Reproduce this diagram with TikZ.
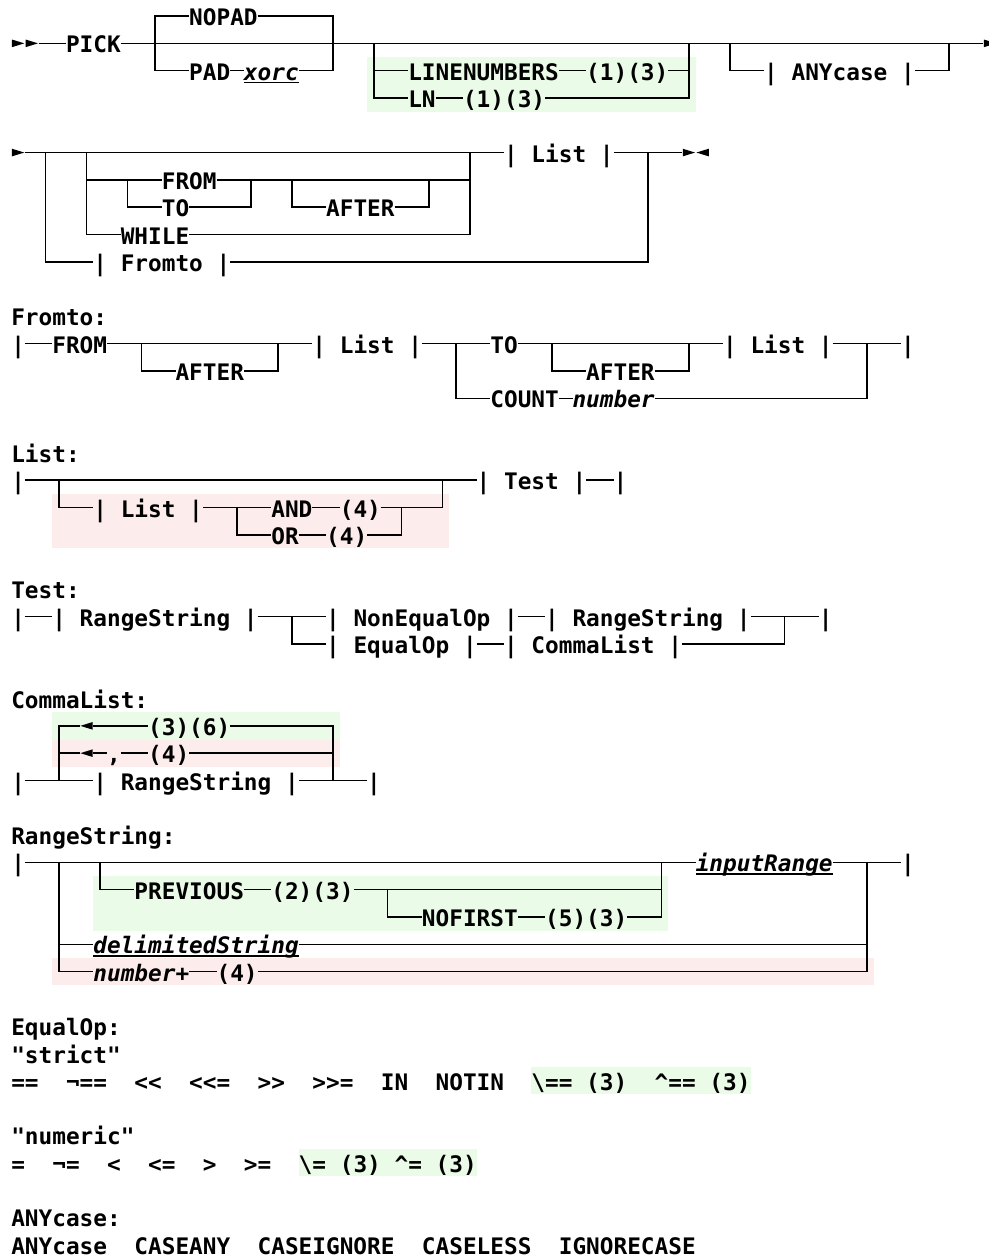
\documentclass[tikz,border=0pt]{standalone}
\usepackage{fontspec}
\newfontfamily\djm{DejaVu Sans Mono}
\newcommand\fsz{\djm\fontsize{22.74pt}{27.3pt}\selectfont\bfseries}
\definecolor{hlg}{RGB}{234,251,231}
\definecolor{hlp}{RGB}{253,236,236}
\newcommand\rtri[2]{\fill ({#1+0.05},{#2+0.36}) -- ({#1+0.95},{#2+0.5}) -- ({#1+0.05},{#2+0.64}) -- cycle;}
\newcommand\ltri[2]{\fill ({#1+0.95},{#2+0.36}) -- ({#1+0.05},{#2+0.5}) -- ({#1+0.95},{#2+0.64}) -- cycle;}
\newcommand\ulx[1]{\draw[ul] ([yshift=-2.2pt]#1.south west) -- ([yshift=-2.2pt]#1.south east);}
\tikzset{
  tx/.style={anchor=west, inner sep=0pt, outer sep=0pt, text height=19.2pt, text depth=0pt, font=\fsz},
  it/.style={tx, font=\fsz\itshape},
  ln/.style={line width=1.5pt, line join=miter},
  ul/.style={line width=1.4pt},
  gb/.style={fill=hlg},
  pb/.style={fill=hlp}
}
\begin{document}
\begin{tikzpicture}[x=13.69pt,y=-27.3pt]
\useasboundingbox (-0.8218,-0.0879) rectangle (71.348,45.9927);
% highlights
\fill[gb] (26,2) rectangle (50,4);
\fill[pb] (3,18) rectangle (32,20);
\fill[gb] (3,26) rectangle (24,27);
\fill[pb] (3,27) rectangle (24,28);
\fill[gb] (6,32) rectangle (48,34);
\fill[pb] (3,35) rectangle (63,36);
\fill[gb] (38,39) rectangle (54,40);
\fill[gb] (21,42) rectangle (34,43);

% ---------- PICK main
\rtri{0}{1}\rtri{1}{1}
\coordinate (p0) at (2,1.5);
\coordinate (p1) at (71,1.5);
\rtri{71}{1}
\node[tx] (pick) at (4,1.5) {PICK};
\node[tx] (nopad) at (13,0.5) {NOPAD};
\node[tx] (pad) at (13,2.5) {PAD};
\node[it] (xorc) at (17,2.5) {xorc};
\node[tx] (lnum) at (29,2.5) {LINENUMBERS};
\node[tx] (lnumn) at (42,2.5) {(1)(3)};
\node[tx] (lnn) at (29,3.5) {LN};
\node[tx] (lnnn) at (33,3.5) {(1)(3)};
\node[tx] (anyref) at (55,2.5) {| ANYcase |};
\draw[ln] (p0) -- (pick.west);
\draw[ln] (pick.east) -- (p1);
\draw[ln] (nopad.west) -- (10.5,0.5) -- (10.5,2.5) -- (pad.west);
\draw[ln] (nopad.east) -- (23.5,0.5) -- (23.5,2.5) -- (xorc.east);
\draw[ln] (pad.east) -- (xorc.west);
\ulx{xorc}
\draw[ln] (26.5,1.5) -- (26.5,3.5) -- (lnn.west);
\draw[ln] (26.5,2.5) -- (lnum.west);
\draw[ln] (lnum.east) -- (lnumn.west);
\draw[ln] (lnumn.east) -- (49.5,2.5);
\draw[ln] (lnn.east) -- (lnnn.west);
\draw[ln] (lnnn.east) -- (49.5,3.5) -- (49.5,1.5);
\draw[ln] (52.5,1.5) -- (52.5,2.5) -- (anyref.west);
\draw[ln] (anyref.east) -- (68.5,2.5) -- (68.5,1.5);

% ---------- second line
\rtri{0}{5}
\coordinate (q0) at (1,5.5);
\coordinate (q1) at (49,5.5);
\rtri{49}{5}\ltri{50}{5}
\node[tx] (lst1) at (36,5.5) {| List |};
\draw[ln] (q0) -- (lst1.west);
\draw[ln] (lst1.east) -- (q1);
\node[tx] (fromto) at (6,9.5) {| Fromto |};
\draw[ln] (2.5,5.5) -- (2.5,9.5) -- (fromto.west);
\draw[ln] (fromto.east) -- (46.5,9.5) -- (46.5,5.5);
\node[tx] (while) at (8,8.5) {WHILE};
\draw[ln] (5.5,5.5) -- (5.5,8.5) -- (while.west);
\draw[ln] (while.east) -- (33.5,8.5) -- (33.5,5.5);
\node[tx] (from1) at (11,6.5) {FROM};
\node[tx] (to1) at (11,7.5) {TO};
\node[tx] (aft1) at (23,7.5) {AFTER};
\draw[ln] (5.5,6.5) -- (from1.west);
\draw[ln] (from1.east) -- (33.5,6.5);
\draw[ln] (8.5,6.5) -- (8.5,7.5) -- (to1.west);
\draw[ln] (to1.east) -- (17.5,7.5) -- (17.5,6.5);
\draw[ln] (20.5,6.5) -- (20.5,7.5) -- (aft1.west);
\draw[ln] (aft1.east) -- (30.5,7.5) -- (30.5,6.5);

% ---------- Fromto
\node[tx] (hft) at (0,11.5) {Fromto:};
\node[tx] (ftb0) at (0,12.5) {|};
\node[tx] (from2) at (3,12.5) {FROM};
\node[tx] (lst2) at (22,12.5) {| List |};
\node[tx] (to2) at (35,12.5) {TO};
\node[tx] (lst3) at (52,12.5) {| List |};
\node[tx] (ftb1) at (65,12.5) {|};
\draw[ln] (ftb0.east) -- (from2.west);
\draw[ln] (from2.east) -- (lst2.west);
\draw[ln] (lst2.east) -- (to2.west);
\draw[ln] (to2.east) -- (lst3.west);
\draw[ln] (lst3.east) -- (ftb1.west);
\node[tx] (aft2) at (12,13.5) {AFTER};
\draw[ln] (9.5,12.5) -- (9.5,13.5) -- (aft2.west);
\draw[ln] (aft2.east) -- (19.5,13.5) -- (19.5,12.5);
\node[tx] (aft3) at (42,13.5) {AFTER};
\draw[ln] (39.5,12.5) -- (39.5,13.5) -- (aft3.west);
\draw[ln] (aft3.east) -- (49.5,13.5) -- (49.5,12.5);
\node[tx] (count) at (35,14.5) {COUNT};
\node[it] (numb) at (41,14.5) {number};
\draw[ln] (32.5,12.5) -- (32.5,14.5) -- (count.west);
\draw[ln] (count.east) -- (numb.west);
\draw[ln] (numb.east) -- (62.5,14.5) -- (62.5,12.5);

% ---------- List
\node[tx] (hl) at (0,16.5) {List:};
\node[tx] (lb0) at (0,17.5) {|};
\node[tx] (test) at (34,17.5) {| Test |};
\node[tx] (lb1) at (44,17.5) {|};
\draw[ln] (lb0.east) -- (test.west);
\draw[ln] (test.east) -- (lb1.west);
\node[tx] (lst4) at (6,18.5) {| List |};
\node[tx] (andk) at (19,18.5) {AND};
\node[tx] (n4a) at (24,18.5) {(4)};
\node[tx] (ork) at (19,19.5) {OR};
\node[tx] (n4b) at (23,19.5) {(4)};
\draw[ln] (3.5,17.5) -- (3.5,18.5) -- (lst4.west);
\draw[ln] (lst4.east) -- (andk.west);
\draw[ln] (andk.east) -- (n4a.west);
\draw[ln] (n4a.east) -- (31.5,18.5) -- (31.5,17.5);
\draw[ln] (16.5,18.5) -- (16.5,19.5) -- (ork.west);
\draw[ln] (ork.east) -- (n4b.west);
\draw[ln] (n4b.east) -- (28.5,19.5) -- (28.5,18.5);

% ---------- Test
\node[tx] (ht) at (0,21.5) {Test:};
\node[tx] (tb0) at (0,22.5) {|};
\node[tx] (rs1) at (3,22.5) {| RangeString |};
\node[tx] (neq) at (23,22.5) {| NonEqualOp |};
\node[tx] (rs2) at (39,22.5) {| RangeString |};
\node[tx] (tb1) at (59,22.5) {|};
\draw[ln] (tb0.east) -- (rs1.west);
\draw[ln] (rs1.east) -- (neq.west);
\draw[ln] (neq.east) -- (rs2.west);
\draw[ln] (rs2.east) -- (tb1.west);
\node[tx] (eqop) at (23,23.5) {| EqualOp |};
\node[tx] (cml) at (36,23.5) {| CommaList |};
\draw[ln] (20.5,22.5) -- (20.5,23.5) -- (eqop.west);
\draw[ln] (eqop.east) -- (cml.west);
\draw[ln] (cml.east) -- (56.5,23.5) -- (56.5,22.5);

% ---------- CommaList
\node[tx] (hc) at (0,25.5) {CommaList:};
\node[tx] (cb0) at (0,28.5) {|};
\node[tx] (rs3) at (6,28.5) {| RangeString |};
\node[tx] (cb1) at (26,28.5) {|};
\draw[ln] (cb0.east) -- (rs3.west);
\draw[ln] (rs3.east) -- (cb1.west);
\ltri{5}{26}\ltri{5}{27}
\coordinate (a1) at (5,26.5);
\coordinate (a1b) at (6,26.5);
\coordinate (a2) at (5,27.5);
\coordinate (a2b) at (6,27.5);
\node[tx] (n36) at (10,26.5) {(3)(6)};
\node[tx] (comma) at (7,27.5) {,};
\node[tx] (n4c) at (10,27.5) {(4)};
\draw[ln] (a1) -- (3.5,26.5) -- (3.5,28.5);
\draw[ln] (3.5,27.5) -- (a2);
\draw[ln] (a1b) -- (n36.west);
\draw[ln] (n36.east) -- (23.5,26.5) -- (23.5,28.5);
\draw[ln] (a2b) -- (comma.west);
\draw[ln] (comma.east) -- (n4c.west);
\draw[ln] (n4c.east) -- (23.5,27.5);

% ---------- RangeString
\node[tx] (hr) at (0,30.5) {RangeString:};
\node[tx] (rb0) at (0,31.5) {|};
\node[it] (inr) at (50,31.5) {inputRange};
\node[tx] (rb1) at (65,31.5) {|};
\draw[ln] (rb0.east) -- (inr.west);
\draw[ln] (inr.east) -- (rb1.west);
\ulx{inr}
\node[it] (dls) at (6,34.5) {delimitedString};
\ulx{dls}
\node[it] (nplus) at (6,35.5) {number+};
\node[tx] (n4d) at (15,35.5) {(4)};
\draw[ln] (3.5,31.5) -- (3.5,35.5) -- (nplus.west);
\draw[ln] (3.5,34.5) -- (dls.west);
\draw[ln] (dls.east) -- (62.5,34.5);
\draw[ln] (nplus.east) -- (n4d.west);
\draw[ln] (n4d.east) -- (62.5,35.5) -- (62.5,31.5);
\node[tx] (prev) at (9,32.5) {PREVIOUS};
\node[tx] (n23) at (19,32.5) {(2)(3)};
\node[tx] (nof) at (30,33.5) {NOFIRST};
\node[tx] (n53) at (39,33.5) {(5)(3)};
\draw[ln] (6.5,31.5) -- (6.5,32.5) -- (prev.west);
\draw[ln] (prev.east) -- (n23.west);
\draw[ln] (n23.east) -- (47.5,32.5);
\draw[ln] (27.5,32.5) -- (27.5,33.5) -- (nof.west);
\draw[ln] (nof.east) -- (n53.west);
\draw[ln] (n53.east) -- (47.5,33.5) -- (47.5,31.5);

% ---------- EqualOp
\node[tx] (he) at (0,37.5) {EqualOp:};
\node[tx] (hs) at (0,38.5) {"strict"};
\node[tx] (s1) at (0,39.5) {==};
\node[tx] (s2) at (4,39.5) {¬==};
\node[tx] (s3) at (9,39.5) {<<};
\node[tx] (s4) at (13,39.5) {<<=};
\node[tx] (s5) at (18,39.5) {>>};
\node[tx] (s6) at (22,39.5) {>>=};
\node[tx] (s7) at (27,39.5) {IN};
\node[tx] (s8) at (31,39.5) {NOTIN};
\node[tx] (s9) at (38,39.5) {\textbackslash==};
\node[tx] (s10) at (42,39.5) {(3)};
\node[tx] (s11) at (47,39.5) {\textasciicircum==};
\node[tx] (s12) at (51,39.5) {(3)};
\node[tx] (hnum) at (0,41.5) {"numeric"};
\node[tx] (m1) at (0,42.5) {=};
\node[tx] (m2) at (3,42.5) {¬=};
\node[tx] (m3) at (7,42.5) {<};
\node[tx] (m4) at (10,42.5) {<=};
\node[tx] (m5) at (14,42.5) {>};
\node[tx] (m6) at (17,42.5) {>=};
\node[tx] (m7) at (21,42.5) {\textbackslash=};
\node[tx] (m8) at (24,42.5) {(3)};
\node[tx] (m9) at (28,42.5) {\textasciicircum=};
\node[tx] (m10) at (31,42.5) {(3)};

% ---------- ANYcase
\node[tx] (hany) at (0,44.5) {ANYcase:};
\node[tx] (c1) at (0,45.5) {ANYcase};
\node[tx] (c2) at (9,45.5) {CASEANY};
\node[tx] (c3) at (18,45.5) {CASEIGNORE};
\node[tx] (c4) at (30,45.5) {CASELESS};
\node[tx] (c5) at (40,45.5) {IGNORECASE};
\end{tikzpicture}
\end{document}
